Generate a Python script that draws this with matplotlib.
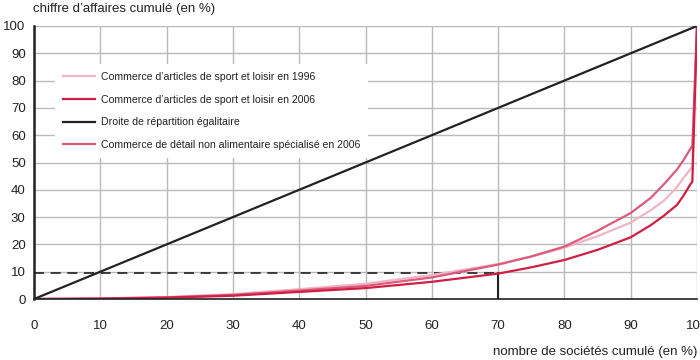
import matplotlib
matplotlib.use("Agg")
import matplotlib.pyplot as plt

# cumulative share of companies (%)
x_pts = [0, 10, 20, 30, 40, 50, 60, 70, 75, 80, 85, 90, 93, 95, 97, 98, 99, 99.3, 100]
sport_1996 = [0, 0.2, 0.7, 1.8, 3.6, 5.6, 8.8, 12.8, 15.5, 18.8, 23, 28, 32.5, 36, 41, 44.5, 47.5, 48.5, 100]
sport_2006 = [0, 0.1, 0.5, 1.2, 2.6, 4.0, 6.3, 9.3, 11.6, 14.3, 18, 22.6, 27, 30.5, 34.5, 38, 42, 43, 100]
non_alim_2006 = [0, 0.2, 0.6, 1.5, 3.1, 4.8, 7.9, 12.6, 15.6, 19.2, 25, 31.5, 37, 42, 47.5, 51, 55, 56, 100]
equal_x = [0, 100]
equal_y = [0, 100]
ref_x = 70
ref_y = 9.5

labels = [
    "Commerce d\u2019articles de sport et loisir en 1996",
    "Commerce d\u2019articles de sport et loisir en 2006",
    "Droite de répartition égalitaire",
    "Commerce de détail non alimentaire spécialisé en 2006",
]
ticks = list(range(0, 101, 10))

plt.rcParams["font.family"] = ["Liberation Sans", "DejaVu Sans"]

fig = plt.figure(figsize=(7, 3.6), dpi=100)
ax = fig.add_axes([0.0486, 0.1694, 0.9471, 0.7584])

ax.set_xlim(0, 100)
ax.set_ylim(0, 100)
ax.set_xticks(ticks)
ax.set_yticks(ticks)
ax.grid(True, color="#bababa", linewidth=1.0)
ax.set_axisbelow(True)
for s in ["top", "right"]:
    ax.spines[s].set_visible(False)
ax.spines["left"].set_linewidth(1.8)
ax.spines["bottom"].set_linewidth(1.2)
ax.spines["left"].set_color("#222222")
ax.spines["bottom"].set_color("#222222")
ax.tick_params(length=0, labelsize=9.5, colors="#222222")
ax.tick_params(axis="x", pad=15)
ax.tick_params(axis="y", pad=6)

ax.plot([0, ref_x], [ref_y, ref_y], color="#222222", lw=1.2, dashes=(6, 4))
ax.plot([ref_x, ref_x], [0, ref_y], color="#222222", lw=1.5)

l1, = ax.plot(x_pts, sport_1996, color="#f0b4c4", lw=1.6)
l4, = ax.plot(x_pts, non_alim_2006, color="#dc5a7c", lw=1.6)
l2, = ax.plot(x_pts, sport_2006, color="#cf1f42", lw=1.6)
l3, = ax.plot(equal_x, equal_y, color="#222222", lw=1.6)

leg = ax.legend([l1, l2, l3, l4], labels, loc="upper left",
                bbox_to_anchor=(0.024, 0.88), fontsize=7.6, frameon=True,
                fancybox=False, edgecolor="none", facecolor="white",
                framealpha=1, handlelength=3.0, labelspacing=1.2,
                borderpad=0.75, handletextpad=0.55)
for t in leg.get_texts():
    t.set_color("#222222")

fig.text(0.047, 0.992, "chiffre d\u2019affaires cumulé (en %)", fontsize=9.5,
         ha="left", va="top", color="#222222")
fig.text(0.996, 0.005, "nombre de sociétés cumulé (en %)", fontsize=9.5,
         ha="right", va="bottom", color="#222222")

fig.savefig("out.png", dpi=100)
